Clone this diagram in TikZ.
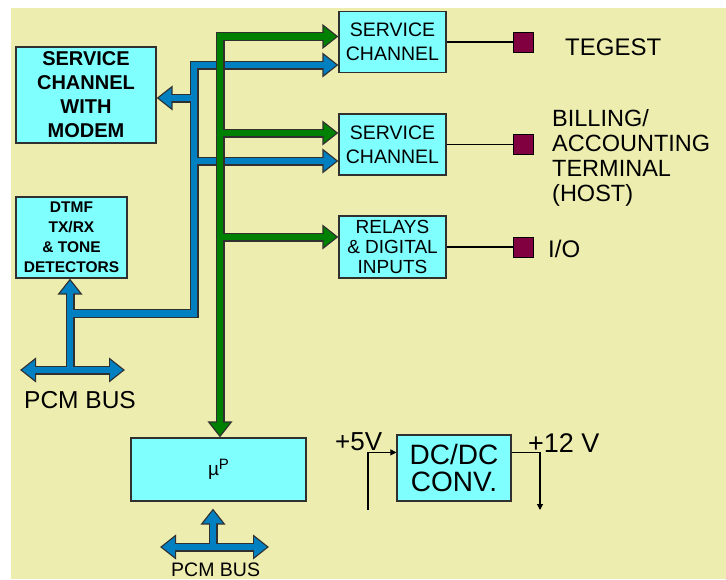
\documentclass[tikz,border=0pt]{standalone}
\usepackage{fontspec}
\setmainfont{Liberation Sans}
\usetikzlibrary{arrows.meta, calc}

\definecolor{paper}{HTML}{EDEDB0}
\definecolor{boxcyan}{HTML}{80FFFF}
\definecolor{busblue}{HTML}{0080C0}
\definecolor{busgreen}{HTML}{008000}
\definecolor{padred}{HTML}{800040}
\definecolor{edge}{HTML}{303030}

\tikzset{
  block/.style 2 args={draw=edge, fill=boxcyan, line width=1.2pt, minimum width=#1, minimum height=#2, inner sep=0pt, align=center},
  pad/.style={draw=black, fill=padred, line width=0.8pt, minimum size=20pt, inner sep=0pt},
  wire/.style={draw=black, line width=1.1pt},
  power/.style={wire, >={Triangle[length=6pt,width=6pt]}},
  tagtext/.style={inner sep=0pt, anchor=base west},
  % fat buses: a dark edge pass first, then the coloured core on top
  blue edge/.style={draw=edge, line width=9pt, >={Triangle[length=16pt,width=24pt]}},
  blue core/.style={draw=busblue, line width=6.6pt, >={Triangle[length=12.8pt,width=19pt]}, shorten >=2pt, shorten <=2pt},
  green edge/.style={blue edge},
  green core/.style={blue core, draw=busgreen},
}

\begin{document}
\begin{tikzpicture}[x=1pt, y=-1pt]

    \useasboundingbox (0,0) rectangle (726,579);
    \fill[paper] (11,8) rectangle (726,579);

    % --- Blocks ---
    \node[block={140pt}{96pt}, font=\fontsize{20}{24}\selectfont\bfseries] (scwm) at (86,95) {SERVICE\\CHANNEL\\WITH\\MODEM};
    \node[block={111pt}{81pt}, font=\fontsize{15.5}{20}\selectfont\bfseries] (dtmf) at (71.5,237.5) {DTMF\\TX/RX\\\& TONE\\DETECTORS};
    \node[block={107pt}{61pt}, font=\fontsize{19.5}{24}\selectfont] (sc1) at (392.5,42) {SERVICE\\CHANNEL};
    \node[block={107pt}{61pt}, font=\fontsize{19.5}{24}\selectfont] (sc2) at (392.5,144.5) {SERVICE\\CHANNEL};
    \node[block={107pt}{62pt}, font=\fontsize{19}{20}\selectfont] (relays) at (392.5,247) {RELAYS\\\& DIGITAL\\INPUTS};
    \node[block={175pt}{63pt}] (mup) at (218.5,469.5) {{\fontsize{19}{19}\selectfont µ}\raisebox{6pt}{\fontsize{15}{15}\selectfont P}};
    \node[block={114pt}{66pt}, font=\fontsize{28}{27}\selectfont] (dcdc) at (454,468) {DC/DC\\CONV.};

    % --- Outputs on the right ---
    \node[pad] (tpad) at (523,42) {};
    \node[pad] (bpad) at (523,144.5) {};
    \node[pad] (iopad) at (523,247) {};
    \draw[wire] (sc1.east) -- (tpad.west);
    \draw[wire] (sc2.east) -- (bpad.west);
    \draw[wire] (relays.east) -- (iopad.west);
    \node[tagtext, font=\fontsize{24}{24}\selectfont] (tegest) at (565,55) {TEGEST};
    \node[inner sep=0pt, anchor=north west, align=left, font=\fontsize{23.5}{25}\selectfont] (host) at (552,109) {BILLING/\\ACCOUNTING\\TERMINAL\\(HOST)};
    \node[tagtext, font=\fontsize{24}{24}\selectfont] (io) at (548,257) {I/O};

    % --- Bus branch points ---
    \coordinate (b top) at (194,65);
    \coordinate (b left) at (194,98);
    \coordinate (b mid) at (194,161);
    \coordinate (b low) at (194,313.5);
    \coordinate (pcm1) at (70,370);
    \coordinate (pcm1 l) at (20,370);
    \coordinate (pcm1 r) at (125,370);
    \coordinate (g top) at (220,36.5);
    \coordinate (g mid) at (220,133);
    \coordinate (g low) at (220,237);
    \coordinate (pcm2) at (213,547);
    \coordinate (pcm2 l) at (160,547);
    \coordinate (pcm2 r) at (269,547);

    % --- Blue bus (edge pass, then core pass) ---
    \foreach \pass in {edge,core} {
        \draw[blue \pass, ->] (b low -| pcm1) -- (b low) -- (b top) -- (b top -| sc1.west);
        \draw[blue \pass, ->] (b mid) -- (b mid -| sc2.west);
        \draw[blue \pass, ->] (b left) -- (b left -| scwm.east);
        \draw[blue \pass, ->] (pcm1) -- (pcm1 |- dtmf.south);
        \draw[blue \pass, <->] (pcm1 l) -- (pcm1 r);
        \draw[blue \pass, ->] (pcm2) -- ($(pcm2 |- mup.south)+(0,7)$);
        \draw[blue \pass, <->] (pcm2 l) -- (pcm2 r);
    }

    % --- Green bus, drawn over the blue one ---
    \foreach \pass in {edge,core} {
        \draw[green \pass, <->] (g top -| sc1.west) -- (g top) -- (g top |- mup.north);
        \draw[green \pass, ->] (g mid) -- (g mid -| sc2.west);
        \draw[green \pass, ->] (g low) -- (g low -| relays.west);
    }

    \node[tagtext, font=\fontsize{24.5}{24.5}\selectfont] (pcm1 lbl) at (24,408) {PCM BUS};
    \node[tagtext, font=\fontsize{19.5}{19.5}\selectfont] (pcm2 lbl) at (171,576) {PCM BUS};

    % --- DC/DC converter supply ---
    \coordinate (v5 foot) at (368,510);
    \coordinate (v12 foot) at (540,510);
    \draw[power, ->] (v5 foot) |- ($(dcdc.north west)+(0,18)$);
    \draw[power, ->] ($(dcdc.north east)+(0,18)$) -| (v12 foot);
    \node[tagtext, font=\fontsize{26}{26}\selectfont] (v5) at (335,450) {+5V};
    \node[tagtext, font=\fontsize{27}{27}\selectfont] (v12) at (528,452) {+12 V};

\end{tikzpicture}
\end{document}
